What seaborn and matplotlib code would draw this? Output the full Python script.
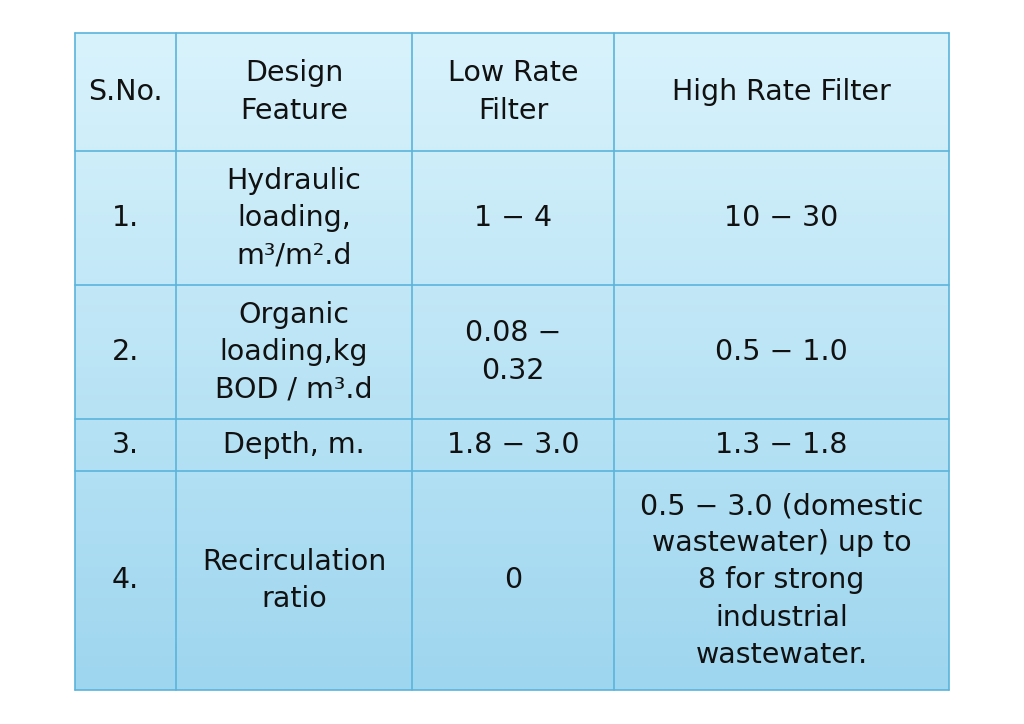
import matplotlib
matplotlib.use("Agg")
import matplotlib.pyplot as plt
import seaborn as sns
import numpy as np
from matplotlib.colors import LinearSegmentedColormap

sns.set_style("white")
plt.rcParams['font.family'] = ['DejaVu Sans']

headers = ["S.No.", "Design\nFeature", "Low Rate\nFilter", "High Rate Filter"]
sno = ["1.", "2.", "3.", "4."]
features = ["Hydraulic\nloading,\nm³/m².d", "Organic\nloading,kg\nBOD / m³.d", "Depth, m.", "Recirculation\nratio"]
low_rate = ["1 − 4", "0.08 −\n0.32", "1.8 − 3.0", "0"]
high_rate = ["10 − 30", "0.5 − 1.0", "1.3 − 1.8",
             "0.5 − 3.0 (domestic\nwastewater) up to\n8 for strong\nindustrial\nwastewater."]

col_edges = [75, 176, 412, 614, 949]
row_edges = [33, 151, 285, 419, 471, 690]

fig = plt.figure(figsize=(10.24, 7.24), dpi=100)
ax = fig.add_axes([0, 0, 1, 1])
ax.set_xlim(0, 1024)
ax.set_ylim(724, 0)
ax.axis("off")

cmap = LinearSegmentedColormap.from_list("g", ["#d9f3fc", "#9ed6ef"])
grad = np.linspace(0, 1, 256).reshape(-1, 1)
ax.imshow(grad, cmap=cmap, aspect="auto",
          extent=[col_edges[0], col_edges[-1], row_edges[-1], row_edges[0]], zorder=0)

lc = "#5ab4dc"
for x in col_edges:
    ax.plot([x, x], [row_edges[0], row_edges[-1]], color=lc, lw=1.2, zorder=1)
for y in row_edges:
    ax.plot([col_edges[0], col_edges[-1]], [y, y], color=lc, lw=1.2, zorder=1)

rows = [headers] + [[a, b, c, d] for a, b, c, d in zip(sno, features, low_rate, high_rate)]
for r, row in enumerate(rows):
    yc = (row_edges[r] + row_edges[r + 1]) / 2
    for c, txt in enumerate(row):
        xc = (col_edges[c] + col_edges[c + 1]) / 2
        ax.text(xc, yc, txt, ha="center", va="center", fontsize=20.5,
                color="#111111", linespacing=1.42, fontweight="medium", zorder=2)

fig.savefig("out.png", dpi=100)
